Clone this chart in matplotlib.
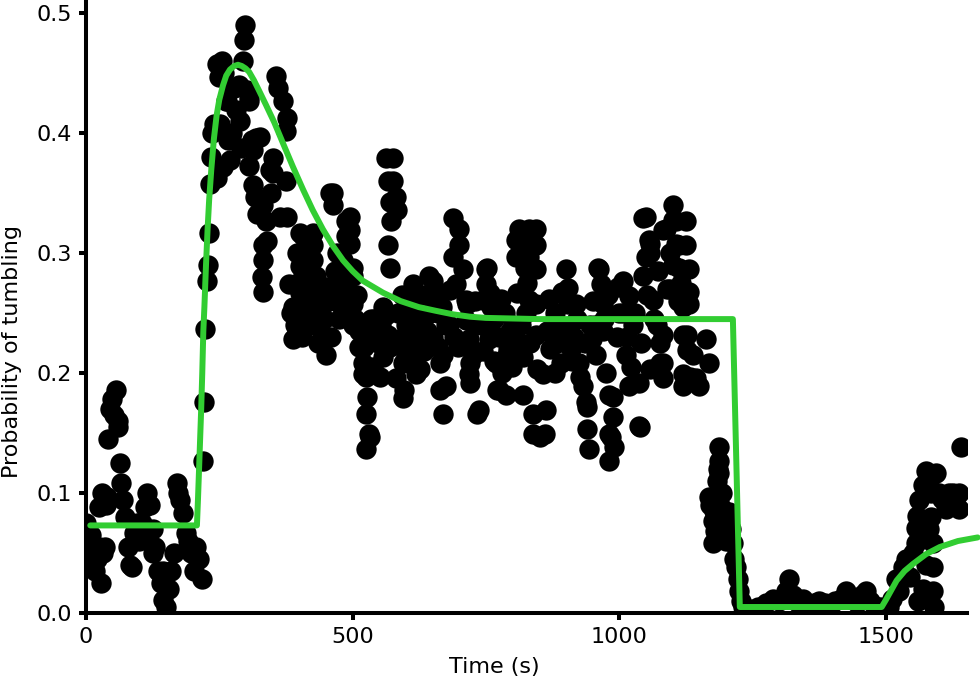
import numpy as np
import matplotlib
matplotlib.use("Agg")
import matplotlib.pyplot as plt

# ---- observed data (time in s, probability of tumbling) ----
t_base = [0, 3, 6, 9, 12, 16, 20, 24, 28, 32, 35, 38, 40, 42, 45, 48, 52, 56, 60, 63, 66, 70, 74, 78,
          82, 86, 90, 95, 100, 105, 110, 115, 120, 125, 130, 135, 140, 145, 150, 155, 160, 165,
          170, 173, 177, 182, 187, 192, 197, 202, 207, 212, 217, 25, 30, 115, 125, 60, 10, 145, 152]
p_base = [0.075, 0.06, 0.045, 0.04, 0.055, 0.035, 0.045, 0.055, 0.025, 0.05, 0.055, 0.09, 0.097, 0.145,
          0.17, 0.178, 0.165, 0.186, 0.155, 0.125, 0.108, 0.094, 0.08, 0.055, 0.04, 0.038, 0.067,
          0.075, 0.06, 0.075, 0.088, 0.1, 0.09, 0.07, 0.055, 0.035, 0.025, 0.011, 0.005, 0.02, 0.035,
          0.05, 0.108, 0.1, 0.094, 0.083, 0.067, 0.06, 0.05, 0.035, 0.055, 0.045, 0.028, 0.088, 0.1,
          0.065, 0.05, 0.16, 0.065, 0.035, 0.02]

t_rise = [220, 222, 224, 226, 228, 230, 232, 234, 236, 240, 245, 250, 255, 258, 262, 266, 270, 274,
          278, 282, 286, 290, 294, 297, 299, 302, 305, 245, 257, 264, 276, 289, 251]
p_rise = [0.127, 0.176, 0.237, 0.277, 0.29, 0.317, 0.358, 0.38, 0.40, 0.408, 0.458, 0.447, 0.46,
          0.45, 0.427, 0.394, 0.378, 0.40, 0.438, 0.419, 0.44, 0.388, 0.46, 0.478, 0.49, 0.436, 0.427,
          0.363, 0.372, 0.427, 0.438, 0.41, 0.408]

t_peak = [306, 306, 311, 313, 313, 316, 319, 326, 332, 337, 332, 332, 332, 330, 345, 351, 351, 356,
          360, 364, 370, 375, 376, 375, 376, 381, 388, 388, 392, 395, 320, 340, 347]
p_peak = [0.43, 0.373, 0.394, 0.357, 0.386, 0.347, 0.396, 0.397, 0.34, 0.327, 0.307, 0.294, 0.268,
          0.28, 0.369, 0.379, 0.367, 0.448, 0.438, 0.33, 0.427, 0.402, 0.413, 0.36, 0.33, 0.274,
          0.255, 0.228, 0.24, 0.30, 0.333, 0.31, 0.35]

t_mid1 = [401, 401, 401, 407, 407, 407, 413, 420, 426, 426, 426, 431, 437, 444, 444, 450, 452, 457,
          463, 463, 470, 476, 482, 488, 488, 495, 495, 495, 500, 501, 501, 505, 512, 512, 514, 519,
          519, 522, 525, 527, 525, 531, 533, 525, 538, 544, 551, 551, 557, 557, 395, 410, 418, 430,
          440, 455, 470, 480, 490, 500, 540, 548, 385, 398, 415, 435, 460, 475, 485,
          405, 422, 447, 466, 492, 509, 535, 553]
p_mid1 = [0.317, 0.289, 0.267, 0.314, 0.297, 0.281, 0.261, 0.245, 0.317, 0.307, 0.294, 0.281, 0.27,
          0.261, 0.232, 0.215, 0.272, 0.35, 0.34, 0.35, 0.3, 0.28, 0.294, 0.327, 0.314, 0.33, 0.319,
          0.308, 0.288, 0.281, 0.258, 0.245, 0.235, 0.222, 0.236, 0.199, 0.208, 0.222, 0.197, 0.18,
          0.166, 0.149, 0.147, 0.137, 0.205, 0.232, 0.23, 0.197, 0.255, 0.213, 0.235, 0.25, 0.27,
          0.24, 0.25, 0.26, 0.265, 0.255, 0.27, 0.24, 0.245, 0.225, 0.25, 0.275, 0.29, 0.225, 0.23,
          0.245, 0.26,
          0.23, 0.258, 0.245, 0.285, 0.25, 0.265, 0.245, 0.24]

t_mid2 = [562, 566, 570, 572, 566, 570, 562, 566, 570, 576, 581, 583, 576, 581, 589, 594, 594, 597,
          600, 605, 613, 613, 620, 619, 626, 630, 635, 643, 651, 656, 650, 660, 664, 664, 669, 675,
          669, 682, 688, 688, 694, 699, 699, 585, 610, 640, 660, 675, 690, 600, 625, 645, 680,
          592, 617, 633, 653, 668, 697]
p_mid2 = [0.379, 0.36, 0.343, 0.327, 0.307, 0.288, 0.248, 0.232, 0.222, 0.379, 0.347, 0.336, 0.36,
          0.196, 0.228, 0.208, 0.179, 0.186, 0.24, 0.26, 0.274, 0.255, 0.225, 0.199, 0.203, 0.24,
          0.265, 0.281, 0.277, 0.261, 0.23, 0.222, 0.208, 0.186, 0.166, 0.189, 0.215, 0.269, 0.329,
          0.297, 0.274, 0.32, 0.307, 0.25, 0.23, 0.235, 0.25, 0.24, 0.23, 0.215, 0.245, 0.25, 0.24,
          0.265, 0.212, 0.218, 0.268, 0.255, 0.222]

t_mid3 = [707, 707, 712, 714, 718, 718, 720, 720, 733, 737, 740, 744, 750, 750, 752, 756, 757, 757,
          760, 765, 769, 771, 774, 780, 787, 792, 800, 806, 806, 808, 812, 812, 814, 819, 819, 823,
          825, 831, 831, 831, 833, 838, 838, 844, 844, 844, 846, 844, 844, 725, 730, 775, 785, 795,
          805, 815, 730, 765, 790,
          713, 745, 778, 798, 826]
p_mid3 = [0.287, 0.225, 0.261, 0.258, 0.228, 0.199, 0.208, 0.192, 0.166, 0.169, 0.24, 0.261, 0.287,
          0.274, 0.288, 0.228, 0.23, 0.267, 0.255, 0.21, 0.208, 0.186, 0.186, 0.2, 0.182, 0.22, 0.24,
          0.311, 0.297, 0.267, 0.32, 0.215, 0.308, 0.182, 0.213, 0.288, 0.25, 0.32, 0.297, 0.261,
          0.225, 0.166, 0.149, 0.32, 0.307, 0.287, 0.203, 0.258, 0.232, 0.215, 0.24, 0.23, 0.25,
          0.235, 0.23, 0.24, 0.26, 0.245, 0.215,
          0.244, 0.218, 0.262, 0.205, 0.275]

t_mid4 = [851, 857, 862, 860, 870, 875, 883, 890, 900, 904, 904, 900, 910, 915, 924, 926, 932, 937,
          939, 939, 943, 945, 950, 956, 960, 962, 966, 969, 969, 975, 981, 981, 981, 988, 988, 985,
          990, 995, 1000, 865, 880, 895, 920, 935, 955, 972, 880, 912,
          868, 892, 918, 948, 978, 997]
p_mid4 = [0.147, 0.199, 0.169, 0.149, 0.22, 0.24, 0.225, 0.208, 0.287, 0.271, 0.258, 0.238, 0.22,
          0.23, 0.208, 0.197, 0.189, 0.176, 0.172, 0.153, 0.137, 0.24, 0.26, 0.215, 0.288, 0.287,
          0.274, 0.258, 0.235, 0.2, 0.127, 0.149, 0.182, 0.18, 0.163, 0.147, 0.138, 0.23, 0.25, 0.235,
          0.25, 0.235, 0.245, 0.225, 0.24, 0.245, 0.2, 0.21,
          0.262, 0.268, 0.258, 0.228, 0.265, 0.272]

t_mid5 = [1007, 1007, 1012, 1018, 1018, 1025, 1030, 1037, 1039, 1037, 1045, 1050, 1056, 1050, 1058,
          1058, 1045, 1063, 1058, 1070, 1076, 1076, 1082, 1082, 1082, 1082, 1088, 1095, 1100, 1101,
          1106, 1106, 1112, 1112, 1115, 1119, 1119, 1119, 1119, 1110, 1095, 1125, 1125, 1127, 1015,
          1040, 1065, 1090, 1100, 1022, 1052, 1072]
p_mid5 = [0.277, 0.25, 0.215, 0.264, 0.189, 0.24, 0.25, 0.156, 0.155, 0.192, 0.329, 0.33, 0.311,
          0.297, 0.308, 0.3, 0.281, 0.261, 0.203, 0.24, 0.225, 0.208, 0.319, 0.232, 0.208, 0.196, 0.32,
          0.3, 0.34, 0.328, 0.327, 0.308, 0.307, 0.288, 0.275, 0.255, 0.232, 0.199, 0.189, 0.26, 0.27,
          0.327, 0.307, 0.219, 0.23, 0.225, 0.245, 0.27, 0.29, 0.205, 0.265, 0.285]

t_drop = [1131, 1131, 1131, 1127, 1138, 1144, 1133, 1150, 1162, 1168, 1168, 1170, 1175, 1175, 1180,
          1183, 1185, 1187, 1187, 1187, 1192, 1195, 1200, 1206, 1210, 1213, 1216, 1219, 1222, 1225,
          1228, 1232, 1178, 1190, 1198]
p_drop = [0.287, 0.268, 0.258, 0.232, 0.215, 0.196, 0.197, 0.189, 0.228, 0.208, 0.097, 0.09, 0.077,
          0.058, 0.068, 0.11, 0.12, 0.138, 0.127, 0.117, 0.10, 0.07, 0.06, 0.084, 0.07, 0.058, 0.045,
          0.038, 0.028, 0.018, 0.01, 0.005, 0.085, 0.088, 0.075]

t_low = [1245, 1260, 1275, 1288, 1300, 1312, 1318, 1325, 1335, 1344, 1355, 1365, 1374, 1385, 1395,
         1405, 1415, 1425, 1435, 1445, 1455, 1462, 1470, 1480, 1490]
p_low = [0.003, 0.005, 0.008, 0.012, 0.01, 0.018, 0.028, 0.015, 0.008, 0.012, 0.005, 0.008, 0.01,
         0.008, 0.006, 0.01, 0.012, 0.018, 0.012, 0.008, 0.015, 0.018, 0.01, 0.006, 0.005]

t_end = [1505, 1512, 1519, 1525, 1532, 1538, 1545, 1550, 1556, 1556, 1558, 1562, 1569, 1575, 1580,
         1585, 1588, 1588, 1588, 1590, 1594, 1600, 1605, 1612, 1618, 1625, 1630, 1637, 1637, 1640,
         1560, 1570, 1575, 1580, 1585]
p_end = [0.005, 0.012, 0.028, 0.018, 0.038, 0.045, 0.03, 0.05, 0.058, 0.071, 0.081, 0.094, 0.107,
         0.118, 0.11, 0.1, 0.058, 0.038, 0.018, 0.005, 0.117, 0.1, 0.095, 0.087, 0.1, 0.1, 0.093, 0.1,
         0.087, 0.138, 0.01, 0.02, 0.04, 0.07, 0.08]

# ---- model curve ----
model_t = [8, 208, 210, 212, 214, 216, 218, 220, 222, 225, 228, 231, 235, 240, 245, 250, 257, 263,
           270, 278, 285, 292, 299, 306, 315, 325, 337, 353, 369, 388, 407, 425, 444, 463, 482, 500,
           519, 538, 557, 590, 624, 655, 688, 720, 750, 800, 850, 1213, 1226, 1492, 1500, 1510,
           1520, 1535, 1551, 1575, 1601, 1635, 1672]
model_p = [0.073, 0.073, 0.095, 0.12, 0.145, 0.17, 0.2, 0.235, 0.255, 0.29, 0.32, 0.345, 0.37,
           0.396, 0.415, 0.428, 0.44, 0.448, 0.453, 0.456, 0.457, 0.456, 0.454, 0.451, 0.444, 0.435,
           0.424, 0.409, 0.392, 0.372, 0.353, 0.336, 0.32, 0.306, 0.294, 0.285, 0.277, 0.272, 0.267,
           0.26, 0.255, 0.252, 0.249, 0.247, 0.246, 0.2455, 0.245, 0.245, 0.005, 0.005, 0.011, 0.019,
           0.027, 0.035, 0.041, 0.049, 0.055, 0.06, 0.063]

x_ticks = [0, 500, 1000, 1500]
y_ticks = [0.0, 0.1, 0.2, 0.3, 0.4, 0.5]

time_s = np.concatenate([t_base, t_rise, t_peak, t_mid1, t_mid2, t_mid3, t_mid4, t_mid5,
                         t_drop, t_low, t_end])
prob = np.concatenate([p_base, p_rise, p_peak, p_mid1, p_mid2, p_mid3, p_mid4, p_mid5,
                       p_drop, p_low, p_end])

plt.rcParams['font.family'] = ['DejaVu Sans']
fig = plt.figure(figsize=(9.8, 6.8), dpi=100)
ax = fig.add_axes([86 / 980, 67 / 680, (967 - 86) / 980, 613 / 680])

ax.scatter(time_s, prob, s=215, c='black', linewidths=0, zorder=2)
ax.plot(model_t, model_p, color='limegreen', lw=4.3, solid_capstyle='round',
        solid_joinstyle='round', zorder=3, clip_on=False)

ax.set_xlim(0, 1652)
ax.set_ylim(0, 0.511)
ax.set_xticks(x_ticks)
ax.set_yticks(y_ticks)
ax.set_yticklabels([f"{v:.1f}" for v in y_ticks])

for side in ['top', 'right']:
    ax.spines[side].set_visible(False)
for side in ['left', 'bottom']:
    ax.spines[side].set_linewidth(2.9)
ax.tick_params(width=2.9, length=5, labelsize=16, pad=5)

ax.set_xlabel('Time (s)', fontsize=16)
ax.set_ylabel('Probability of tumbling', fontsize=16)
ax.xaxis.set_label_coords(0.464, -0.072)
ax.yaxis.set_label_coords(-0.073, 0.427)

fig.savefig('out.png', dpi=100)
